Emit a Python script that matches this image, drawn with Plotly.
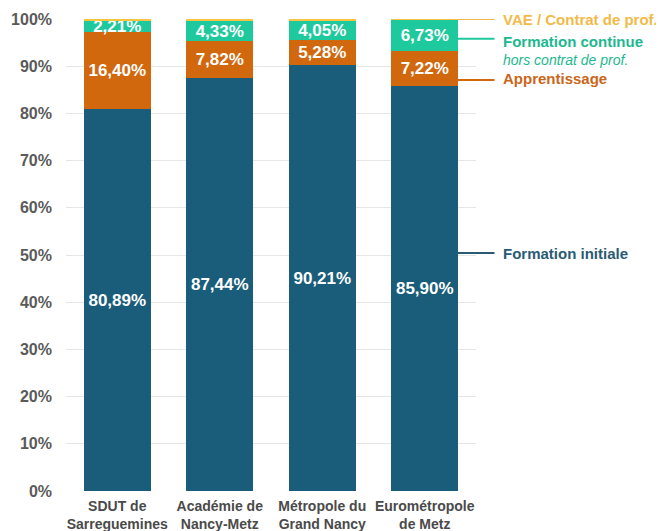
import plotly.graph_objects as go

categories = ["SDUT de<br>Sarreguemines", "Académie de<br>Nancy-Metz", "Métropole du<br>Grand Nancy", "Eurométropole<br>de Metz"]
formation_initiale = [80.89, 87.44, 90.21, 85.90]
apprentissage = [16.40, 7.82, 5.28, 7.22]
formation_continue = [2.21, 4.33, 4.05, 6.73]
vae = [0.50, 0.41, 0.46, 0.15]

FONT = "Arial, Liberation Sans, sans-serif"
C_FI = "#1A5D7A"
C_AP = "#D2680E"
C_FC = "#1FC99E"
C_VAE = "#F6C343"

def fmt(v):
    return f"{v:.2f}%".replace(".", ",")

fig = go.Figure()
for name, vals, col, show in [
    ("Formation initiale", formation_initiale, C_FI, True),
    ("Apprentissage", apprentissage, C_AP, True),
    ("Formation continue", formation_continue, C_FC, True),
    ("VAE / Contrat de prof.", vae, C_VAE, False),
]:
    fig.add_trace(go.Bar(
        x=categories, y=vals, name=name,
        marker=dict(color=col, line=dict(width=0)),
        text=[fmt(v) for v in vals] if show else None,
        textposition="inside" if show else "none",
        insidetextanchor="middle",
        textangle=0,
        textfont=dict(family=FONT, size=17, color="white", weight="bold"),
        cliponaxis=False,
        hoverinfo="skip",
    ))

fig.update_layout(
    barmode="stack",
    bargap=0.35,
    width=656, height=523,
    margin=dict(l=58, r=188, t=11, b=40),
    plot_bgcolor="white", paper_bgcolor="white",
    showlegend=False,
    uniformtext=dict(minsize=17, mode="show"),
    font=dict(family=FONT),
    yaxis=dict(range=[0, 100], dtick=10, ticksuffix="%", showgrid=True,
               gridcolor="#E6E6E6", gridwidth=1, zeroline=False, automargin=False,
               tickfont=dict(family=FONT, size=16, color="#5A5A5A", weight="bold"),
               ticks="", ticklabelstandoff=13),
    xaxis=dict(range=[-0.5, 3.5], automargin=False, tickangle=0,
               tickfont=dict(family=FONT, size=14, color="#4A4A4A", weight="bold"),
               showline=False, ticks="", ticklabelstandoff=5),
)

# legend callouts (paper x coordinates)
callouts = [
    ("VAE / Contrat de prof.", 100, 100, "#F2B54A", "#F2BA48"),
    ("Formation continue", 95.8, 95.3, C_FC, "#1DB88F"),
    ("Apprentissage", 87.1, 87.3, C_AP, "#C9661A"),
    ("Formation initiale", 50.4, 50.4, "#2B5B74", "#2B5B74"),
]
for text, yl, yt, lc, tc in callouts:
    fig.add_shape(type="line", xref="paper", yref="y", x0=0.955, x1=1.045, y0=yl, y1=yl,
                  line=dict(color=lc, width=2))
    fig.add_annotation(x=1.06, y=yt, xref="paper", yref="y", text=f"<b>{text}</b>",
                       showarrow=False, xanchor="left", yanchor="middle",
                       font=dict(family=FONT, size=15, color=tc))
fig.add_annotation(x=1.06, y=91.4, xref="paper", yref="y", text="<i>hors contrat de prof.</i>",
                   showarrow=False, xanchor="left", yanchor="middle",
                   font=dict(family=FONT, size=14, color="#1DB88F"))

fig.write_html("out.html")
